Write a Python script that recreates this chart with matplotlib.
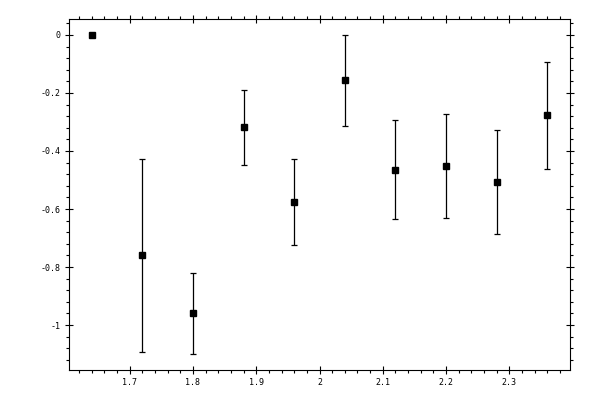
import matplotlib
matplotlib.use("Agg")
import matplotlib.pyplot as plt
from matplotlib.ticker import MultipleLocator
import numpy as np

x = [1.64, 1.72, 1.80, 1.88, 1.96, 2.04, 2.12, 2.20, 2.28, 2.36]
y = [0.0, -0.759, -0.958, -0.319, -0.576, -0.156, -0.465, -0.451, -0.506, -0.277]
y_low = [0.0, -1.092, -1.100, -0.447, -0.725, -0.315, -0.635, -0.631, -0.687, -0.461]
y_high = [0.0, -0.426, -0.819, -0.190, -0.426, 0.0, -0.294, -0.274, -0.326, -0.093]

plt.rcParams['axes.unicode_minus'] = False
plt.rcParams['font.family'] = ['DejaVu Sans Mono']

fig = plt.figure(figsize=(6, 4), dpi=100)
ax = fig.add_axes([0.115, 0.075, 0.835, 0.8775])

ya = np.array(y)
yerr = [ya - np.array(y_low), np.array(y_high) - ya]
ax.errorbar(x, y, yerr=yerr, fmt='s', color='black', ms=5, ecolor='black',
            elinewidth=0.9, capsize=2, capthick=0.9)

ax.xaxis.set_major_locator(MultipleLocator(0.1))
ax.xaxis.set_minor_locator(MultipleLocator(0.02))
ax.yaxis.set_major_locator(MultipleLocator(0.2))
ax.yaxis.set_minor_locator(MultipleLocator(0.04))
ax.tick_params(which='major', direction='inout', length=6, width=0.8,
               top=True, right=True, labelsize=6, pad=3)
ax.tick_params(which='minor', direction='out', length=2.5, width=0.8,
               top=True, right=True)
for s in ax.spines.values():
    s.set_linewidth(0.8)

ax.xaxis.set_major_formatter(matplotlib.ticker.FuncFormatter(lambda v, p: ('%g' % round(v, 3))))
ax.yaxis.set_major_formatter(matplotlib.ticker.FuncFormatter(lambda v, p: ('%g' % round(v, 3)) if abs(v) > 1e-9 else '0'))

fig.savefig('out.png', dpi=100)
